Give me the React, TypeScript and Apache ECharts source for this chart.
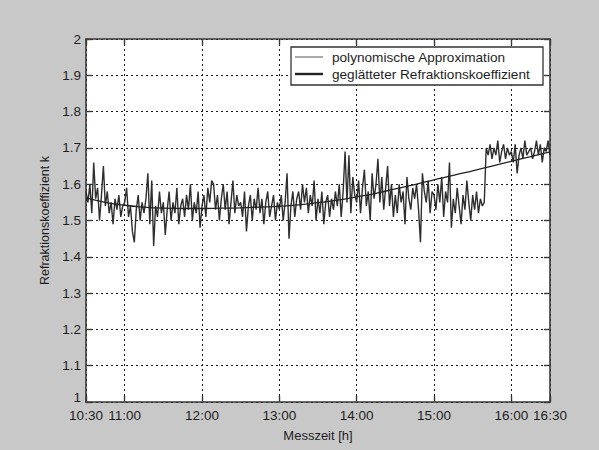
import React, { useEffect, useRef } from "react";
import * as echarts from "echarts";

// sample grid of the smoothed series: one value every 1.5 minutes from 10:30
const startHour = 10.5;
const stepHour = 0.025;

// geglätteter Refraktionskoeffizient (15-minute blocks of 10 samples)
const smoothedValues: number[] = [
  // 10:30
  1.58, 1.55, 1.60, 1.52, 1.66, 1.56, 1.59, 1.50, 1.57, 1.65,
  // 10:45
  1.54, 1.58, 1.52, 1.55, 1.49, 1.56, 1.53, 1.57, 1.51, 1.54,
  // 11:00
  1.55, 1.59, 1.51, 1.54, 1.47, 1.44, 1.53, 1.57, 1.50, 1.55,
  // 11:15
  1.52, 1.56, 1.63, 1.49, 1.61, 1.43, 1.54, 1.51, 1.58, 1.52,
  // 11:30
  1.55, 1.46, 1.53, 1.58, 1.50, 1.55, 1.52, 1.59, 1.49, 1.54,
  // 11:45
  1.56, 1.51, 1.57, 1.53, 1.60, 1.50, 1.55, 1.52, 1.58, 1.48,
  // 12:00
  1.54, 1.57, 1.51, 1.59, 1.55, 1.61, 1.60, 1.53, 1.57, 1.50,
  // 12:15
  1.56, 1.60, 1.53, 1.58, 1.49, 1.55, 1.61, 1.52, 1.57, 1.54,
  // 12:30
  1.55, 1.51, 1.58, 1.47, 1.54, 1.57, 1.50, 1.56, 1.53, 1.59,
  // 12:45
  1.52, 1.56, 1.49, 1.55, 1.58, 1.51, 1.54, 1.57, 1.50, 1.55,
  // 13:00
  1.53, 1.57, 1.50, 1.55, 1.63, 1.45, 1.54, 1.58, 1.51, 1.56,
  // 13:15
  1.58, 1.53, 1.60, 1.55, 1.59, 1.52, 1.57, 1.54, 1.61, 1.50,
  // 13:30
  1.56, 1.52, 1.58, 1.49, 1.55, 1.57, 1.51, 1.56, 1.53, 1.58,
  // 13:45
  1.54, 1.60, 1.51, 1.58, 1.69, 1.55, 1.68, 1.52, 1.62, 1.57,
  // 14:00
  1.55, 1.61, 1.52, 1.59, 1.64, 1.54, 1.58, 1.50, 1.63, 1.56,
  // 14:15
  1.60, 1.67, 1.55, 1.62, 1.53, 1.59, 1.65, 1.54, 1.60, 1.51,
  // 14:30
  1.57, 1.52, 1.60, 1.55, 1.58, 1.49, 1.62, 1.56, 1.53, 1.59,
  // 14:45
  1.56, 1.60, 1.53, 1.44, 1.63, 1.58, 1.55, 1.61, 1.52, 1.58,
  // 15:00
  1.57, 1.53, 1.60, 1.55, 1.62, 1.51, 1.58, 1.55, 1.66, 1.48,
  // 15:15
  1.56, 1.52, 1.59, 1.54, 1.49, 1.57, 1.53, 1.61, 1.55, 1.50,
  // 15:30
  1.57, 1.53, 1.58, 1.52, 1.56, 1.54, 1.55, 1.70, 1.68, 1.71,
  // 15:45
  1.67, 1.70, 1.68, 1.72, 1.66, 1.69, 1.71, 1.67, 1.70, 1.68,
  // 16:00
  1.69, 1.66, 1.71, 1.63, 1.68, 1.70, 1.67, 1.72, 1.68, 1.69,
  // 16:15
  1.70, 1.67, 1.69, 1.72, 1.68, 1.71, 1.66, 1.70, 1.69, 1.72, 1.68,
];

// polynomische Approximation, read every 15 minutes
const polyTimes: number[] = [
  10.5, 10.75, 11, 11.25, 11.5, 11.75, 12, 12.25, 12.5, 12.75, 13, 13.25, 13.5,
  13.75, 14, 14.25, 14.5, 14.75, 15, 15.25, 15.5, 15.75, 16, 16.25, 16.5,
];
const polyValues: number[] = [
  1.562, 1.550, 1.542, 1.537, 1.534, 1.533, 1.533, 1.534, 1.535, 1.537, 1.539,
  1.543, 1.549, 1.556, 1.565, 1.575, 1.587, 1.599, 1.612, 1.624, 1.637, 1.650,
  1.663, 1.676, 1.689,
];

const xTicks: number[] = [10.5, 11, 12, 13, 14, 15, 16, 16.5];

const seriesNames = ["polynomische Approximation", "geglätteter Refraktionskoeffizient"];

const fmtTime = (h: number) => {
  const hh = Math.floor(h + 1e-9);
  const mm = Math.round((h - hh) * 60);
  return `${hh}:${String(mm).padStart(2, "0")}`;
};

const FONT = "'Liberation Sans', Arial, sans-serif";

export default function App() {
  const ref = useRef<HTMLDivElement>(null);
  useEffect(() => {
    if (!ref.current) return;
    const chart = echarts.init(ref.current, null, { renderer: "svg" });
    const smoothedData = smoothedValues.map((v, i) => [startHour + i * stepHour, v]);
    const polyData = polyTimes.map((t, i) => [t, polyValues[i]]);
    const gridLine = { show: true, lineStyle: { color: "#1a1a1a", width: 1, type: [2, 3] as any } };
    const axisLineStyle = { show: true, lineStyle: { color: "#3a3a3a", width: 1.6 } };
    const legendFont = `13.6px ${FONT}`;
    chart.setOption({
      animation: false,
      backgroundColor: "#c8c8c8",
      textStyle: { fontFamily: FONT },
      grid: { left: 86, top: 39, width: 464, height: 363, backgroundColor: "#ffffff", show: true, borderWidth: 0 },
      xAxis: [
        {
          type: "value",
          position: "bottom",
          min: 10.5,
          max: 16.5,
          axisLine: axisLineStyle,
          axisTick: { show: true, inside: true, length: 6, customValues: xTicks, lineStyle: { color: "#3a3a3a", width: 1.4 } },
          axisLabel: { customValues: xTicks, formatter: (v: number) => fmtTime(v), color: "#1e1e1e", fontSize: 13.5, margin: 6, fontFamily: FONT },
          splitLine: gridLine,
          name: "Messzeit [h]",
          nameLocation: "middle",
          nameGap: 27,
          nameTextStyle: { color: "#1e1e1e", fontSize: 13, fontFamily: FONT },
        },
        {
          type: "value",
          position: "top",
          min: 10.5,
          max: 16.5,
          axisLine: axisLineStyle,
          axisTick: { show: true, inside: true, length: 6, customValues: xTicks, lineStyle: { color: "#3a3a3a", width: 1.4 } },
          axisLabel: { show: false },
          splitLine: { show: false },
        },
      ],
      yAxis: [
        {
          type: "value",
          position: "left",
          min: 1,
          max: 2,
          interval: 0.1,
          axisLine: axisLineStyle,
          axisTick: { show: true, inside: true, length: 6, lineStyle: { color: "#3a3a3a", width: 1.4 } },
          axisLabel: {
            formatter: (v: number) => {
              const s = String(Number(v.toFixed(1)));
              return v < 1.05 ? `{low|${s}}` : s;
            },
            rich: { low: { padding: [0, 0, 10, 0], fontSize: 13.5, color: "#1e1e1e", fontFamily: FONT } },
            color: "#1e1e1e",
            fontSize: 13.5,
            margin: 5,
            fontFamily: FONT,
          },
          splitLine: gridLine,
          name: "Refraktionskoeffizient k",
          nameLocation: "middle",
          nameGap: 33,
          nameTextStyle: { color: "#1e1e1e", fontSize: 12.5, fontFamily: FONT },
        },
        {
          type: "value",
          position: "right",
          min: 1,
          max: 2,
          interval: 0.1,
          axisLine: axisLineStyle,
          axisTick: { show: true, inside: true, length: 6, lineStyle: { color: "#3a3a3a", width: 1.4 } },
          axisLabel: { show: false },
          splitLine: { show: false },
        },
      ],
      graphic: [
        {
          type: "rect",
          z: 100,
          shape: { x: 291, y: 47, width: 252, height: 38 },
          style: { fill: "#ffffff", stroke: "#333333", lineWidth: 1.3 },
        },
        {
          type: "line",
          z: 101,
          shape: { x1: 295, y1: 57, x2: 323, y2: 57 },
          style: { stroke: "#555555", lineWidth: 1 },
        },
        {
          type: "line",
          z: 101,
          shape: { x1: 295, y1: 74, x2: 323, y2: 74 },
          style: { stroke: "#222222", lineWidth: 2.4 },
        },
        {
          type: "text",
          z: 101,
          style: { x: 332, y: 57, text: seriesNames[0], font: legendFont, fill: "#1e1e1e", verticalAlign: "middle", align: "left" },
        },
        {
          type: "text",
          z: 101,
          style: { x: 332, y: 74, text: seriesNames[1], font: legendFont, fill: "#1e1e1e", verticalAlign: "middle", align: "left" },
        },
      ],
      series: [
        {
          name: seriesNames[1],
          type: "line",
          xAxisIndex: 0,
          yAxisIndex: 0,
          data: smoothedData,
          symbol: "none",
          lineStyle: { color: "#2e2e2e", width: 1.4 },
          z: 3,
        },
        {
          name: seriesNames[0],
          type: "line",
          xAxisIndex: 0,
          yAxisIndex: 0,
          data: polyData,
          symbol: "none",
          smooth: true,
          lineStyle: { color: "#222222", width: 1.3 },
          z: 4,
        },
      ],
    });
    return () => chart.dispose();
  }, []);
  return (
    <div
      ref={ref}
      style={{ position: "fixed", left: 0, top: 0, width: 599, height: 450 }}
    />
  );
}
